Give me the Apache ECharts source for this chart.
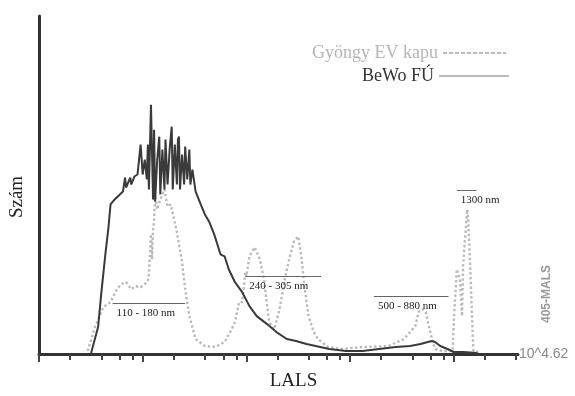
<!DOCTYPE html>
<html><head><meta charset="utf-8">
<script src="https://cdn.jsdelivr.net/npm/echarts@6/dist/echarts.min.js"></script>
<style>html,body{margin:0;padding:0;background:#fff}#c{width:575px;height:396px}</style>
</head><body><div id="c"></div>
<script>
// log10(LALS) positions and counts
const bewoX = [0.50,0.57,0.60,0.64,0.67,0.69,0.73,0.78,0.81,0.83,0.84,0.88,0.89,0.92,0.95,0.98,1.00,1.02,1.04,1.05,1.06,1.08,1.10,1.11,1.12,1.14,1.16,1.17,1.19,1.21,1.22,1.24,1.26,1.28,1.29,1.31,1.33,1.34,1.35,1.36,1.38,1.40,1.41,1.43,1.45,1.46,1.48,1.51,1.56,1.60,1.64,1.69,1.72,1.75,1.79,1.83,1.89,1.96,2.03,2.10,2.20,2.29,2.39,2.48,2.58,2.80,2.96,3.12,3.28,3.44,3.58,3.68,3.75,3.79,3.82,3.87,3.94,4.00,4.09,4.23];
const bewoY = [0,27,60,100,127,150,155,160,163,177,167,177,170,178,180,210,180,195,175,210,165,250,155,225,153,195,218,160,205,165,215,170,205,228,165,210,170,215,218,165,200,170,208,175,205,170,185,163,150,140,133,120,110,100,98,85,72,62,48,38,30,22,15,13,10,5,3,3,5,7,8,10,12,13,12,8,5,2,2,1];
const evX = [0.47,0.54,0.62,0.69,0.74,0.79,0.84,0.89,0.93,0.98,1.02,1.05,1.06,1.08,1.09,1.10,1.11,1.12,1.14,1.16,1.19,1.21,1.24,1.27,1.31,1.33,1.38,1.41,1.45,1.51,1.60,1.70,1.79,1.86,1.89,1.93,1.96,1.99,2.00,2.03,2.05,2.08,2.13,2.17,2.20,2.22,2.27,2.32,2.37,2.42,2.46,2.50,2.53,2.56,2.60,2.65,2.69,2.79,2.91,3.12,3.37,3.52,3.58,3.63,3.66,3.70,3.73,3.76,3.79,3.82,3.89,3.99,4.00,4.03,4.06,4.08,4.09,4.13,4.14,4.16,4.18,4.19,4.25];
const evY = [3,27,47,52,63,70,72,65,68,67,70,73,80,120,95,125,133,160,145,152,160,165,148,150,132,122,92,65,38,15,8,7,12,25,32,52,52,82,78,98,102,107,95,75,48,32,25,45,75,98,113,118,98,68,38,22,15,7,5,7,8,15,22,28,42,45,42,28,15,5,3,3,32,85,75,38,88,145,135,85,28,3,2];
const seriesNames = ['Gyöngy EV kapu', 'BeWo FÚ'];
const majorTicks = [0,1,2,3,4];
const minorTicks = [0.301,0.602,0.778,0.903,1.301,1.602,1.778,1.903,2.301,2.602,2.778,2.903,3.301,3.602,3.778,3.903,4.301,4.602];
const noteLabels = ['110 - 180 nm','240 - 305 nm','500 - 880 nm','1300 nm'];
const noteStart = [0.71,1.99,3.23,4.03];
const noteEnd = [1.41,2.72,3.95,4.22];
const noteLevel = [51,78,58,164];
const xTitle = 'LALS', yTitle = 'Szám', axisEndLabel = '10^4.62', rightLabel = '405-MALS';
const xMax = 4.62, yMax = 339;

const serif = '"Liberation Serif", "DejaVu Serif", serif';
const sans = '"Liberation Sans", Arial, sans-serif';
const chart = echarts.init(document.getElementById('c'), null, {renderer:'canvas'});
const tickStyle = {color:'#444', width:2};
const hiddenSymbol = {opacity:0, color:'transparent', borderWidth:0};
chart.setOption({
  animation:false,
  backgroundColor:'#fff',
  grid:{left:35, right:57, top:16, bottom:41},
  xAxis:[
    {type:'value', min:0, max:xMax,
     axisLine:{show:true, lineStyle:{color:'#333', width:3}},
     axisTick:{show:true, customValues:majorTicks, length:8, lineStyle:tickStyle},
     axisLabel:{show:false}, splitLine:{show:false},
     name:axisEndLabel, nameLocation:'end', nameGap:1,
     nameTextStyle:{fontFamily:sans, fontSize:14, color:'#8a8a8a', padding:[0,0,8,0]}},
    {type:'value', min:0, max:xMax, position:'bottom',
     axisLine:{show:false},
     axisTick:{show:true, customValues:minorTicks, length:6, lineStyle:tickStyle},
     axisLabel:{show:false}, splitLine:{show:false},
     name:xTitle, nameLocation:'middle', nameGap:18,
     nameTextStyle:{fontFamily:serif, fontSize:19, color:'#222', padding:[0,0,0,30]}}
  ],
  yAxis:{type:'value', min:0, max:yMax,
     axisLine:{show:true, lineStyle:{color:'#333', width:3}},
     axisTick:{show:false}, axisLabel:{show:false}, splitLine:{show:false},
     name:yTitle, nameLocation:'middle', nameGap:12,
     nameTextStyle:{fontFamily:serif, fontSize:19, color:'#222', padding:[0,24,0,0]}},
  legend:[
    {data:[{name:seriesNames[0], textStyle:{color:'#b5b5b5'}, itemStyle:hiddenSymbol,
            lineStyle:{color:'#bbb', type:[4,2], width:2}}],
     right:63, top:39, align:'right', itemWidth:63, itemHeight:10, selectedMode:false,
     textStyle:{fontFamily:serif, fontSize:18}},
    {data:[{name:seriesNames[1], textStyle:{color:'#333'}, itemStyle:hiddenSymbol,
            lineStyle:{color:'#bbb', type:'solid', width:2}}],
     right:60, top:62, align:'right', itemWidth:70, itemHeight:10, selectedMode:false,
     textStyle:{fontFamily:serif, fontSize:18}}
  ],
  graphic:[
    {type:'text', x:547, y:294, rotation:Math.PI/2,
     style:{text:rightLabel, align:'center', verticalAlign:'middle', font:'bold 12px ' + sans, fill:'#9a9a9a'}}
  ],
  series:[
    {type:'line', name:seriesNames[0], xAxisIndex:0, data:evX.map((x,i)=>[x, evY[i]]),
     symbol:'none', z:2,
     lineStyle:{color:'#bababa', width:2.4, type:'dotted'}, itemStyle:{color:'#bababa'},
     markLine:{silent:true, symbol:['none','none'],
       lineStyle:{color:'#666', width:1, type:'solid'},
       label:{position:'insideStartBottom', fontFamily:serif, fontSize:11, color:'#222', distance:4},
       data: noteLabels.map((t,i)=>[
         {coord:[noteStart[i], noteLevel[i]], label:{formatter:t}},
         {coord:[noteEnd[i], noteLevel[i]]}
       ])}},
    {type:'line', name:seriesNames[1], xAxisIndex:0, data:bewoX.map((x,i)=>[x, bewoY[i]]),
     symbol:'none', z:3,
     lineStyle:{color:'#3a3a3a', width:2}, itemStyle:{color:'#3a3a3a'}}
  ]
});
</script></body></html>
